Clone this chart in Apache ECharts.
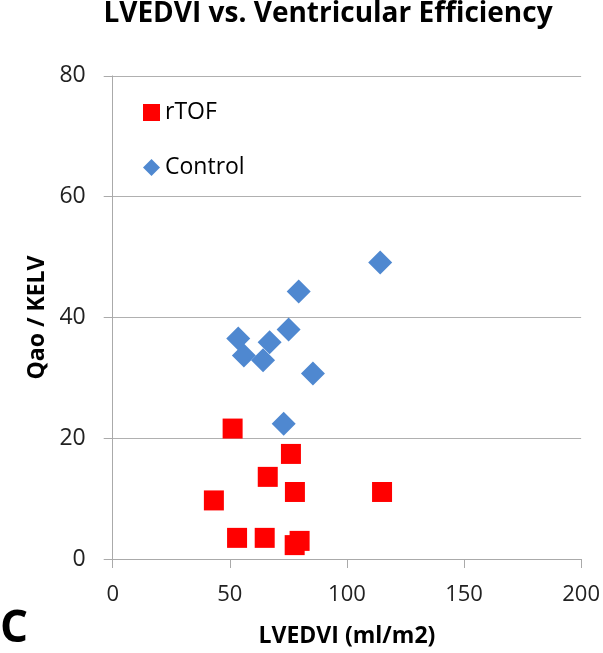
<!DOCTYPE html>
<html><head><meta charset="utf-8">
<script src="https://cdn.jsdelivr.net/npm/echarts@6/dist/echarts.min.js"></script>
<style>html,body{margin:0;padding:0;background:#fff}#c{width:603px;height:653px}</style>
</head><body><div id="c"></div>
<script>
const rtofX = [51.2, 76.1, 66.2, 77.8, 115.0, 43.2, 53.1, 64.9, 79.8, 77.7];
const rtofY = [21.6, 17.4, 13.6, 11.1, 11.1, 9.7, 3.5, 3.5, 3.0, 2.3];
const controlX = [114.2, 79.4, 75.1, 53.6, 67.0, 56.0, 64.2, 85.5, 73.0];
const controlY = [49.1, 44.3, 38.0, 36.5, 35.9, 33.7, 32.9, 30.7, 22.4];
const xTicks = [0, 50, 100, 150, 200];
const yTicks = [0, 20, 40, 60, 80];

const font = "'Open Sans', 'Liberation Sans', sans-serif";
const chart = echarts.init(document.getElementById('c'));
chart.setOption({
  animation: false,
  title: {
    text: 'LVEDVI vs. Ventricular Efficiency',
    left: 328, top: 0, padding: 0, textAlign: 'center',
    textStyle: {fontFamily: font, fontWeight: 'bold', fontSize: 28, color: '#000'}
  },
  graphic: [{
    type: 'text', left: 0, top: 607,
    style: {text: 'C', font: "bold 44px 'Open Sans', sans-serif", fill: '#000'}
  }],
  legend: {
    left: 138, top: 96, orient: 'vertical', itemGap: 32,
    itemWidth: 17, itemHeight: 17,
    textStyle: {fontFamily: font, fontSize: 23, color: '#000'},
    data: [{name: 'rTOF', icon: 'rect'}, {name: 'Control', icon: 'diamond'}]
  },
  grid: {left: 112.7, right: 21, top: 75.9, bottom: 91.3},
  xAxis: {
    type: 'value', min: xTicks[0], max: xTicks[xTicks.length-1], interval: 50,
    name: 'LVEDVI (ml/m2)', nameLocation: 'middle', nameGap: 66,
    nameTextStyle: {fontFamily: font, fontWeight: 'bold', fontSize: 23, color: '#000'},
    axisLine: {show: true, lineStyle: {color: '#aaa'}},
    axisTick: {show: true, length: 9, lineStyle: {color: '#aaa'}},
    axisLabel: {fontFamily: font, fontSize: 22, color: '#222', margin: 25},
    splitLine: {show: false}
  },
  yAxis: {
    type: 'value', min: yTicks[0], max: yTicks[yTicks.length-1], interval: 20,
    name: 'Qao / KELV', nameLocation: 'middle', nameGap: 62,
    nameTextStyle: {fontFamily: font, fontWeight: 'bold', fontSize: 23, color: '#000'},
    axisLine: {show: true, lineStyle: {color: '#aaa'}},
    axisTick: {show: true, length: 9, lineStyle: {color: '#aaa'}},
    axisLabel: {fontFamily: font, fontSize: 23, color: '#222', margin: 27},
    splitLine: {show: true, lineStyle: {color: '#b0b0b0'}}
  },
  series: [
    {name: 'rTOF', type: 'scatter', symbol: 'rect', symbolSize: 20,
     itemStyle: {color: '#ff0000', opacity: 1},
     data: rtofX.map((x, i) => [x, rtofY[i]])},
    {name: 'Control', type: 'scatter', symbol: 'diamond', symbolSize: 24,
     itemStyle: {color: '#4f88d0', opacity: 1},
     data: controlX.map((x, i) => [x, controlY[i]])}
  ]
});
</script></body></html>
